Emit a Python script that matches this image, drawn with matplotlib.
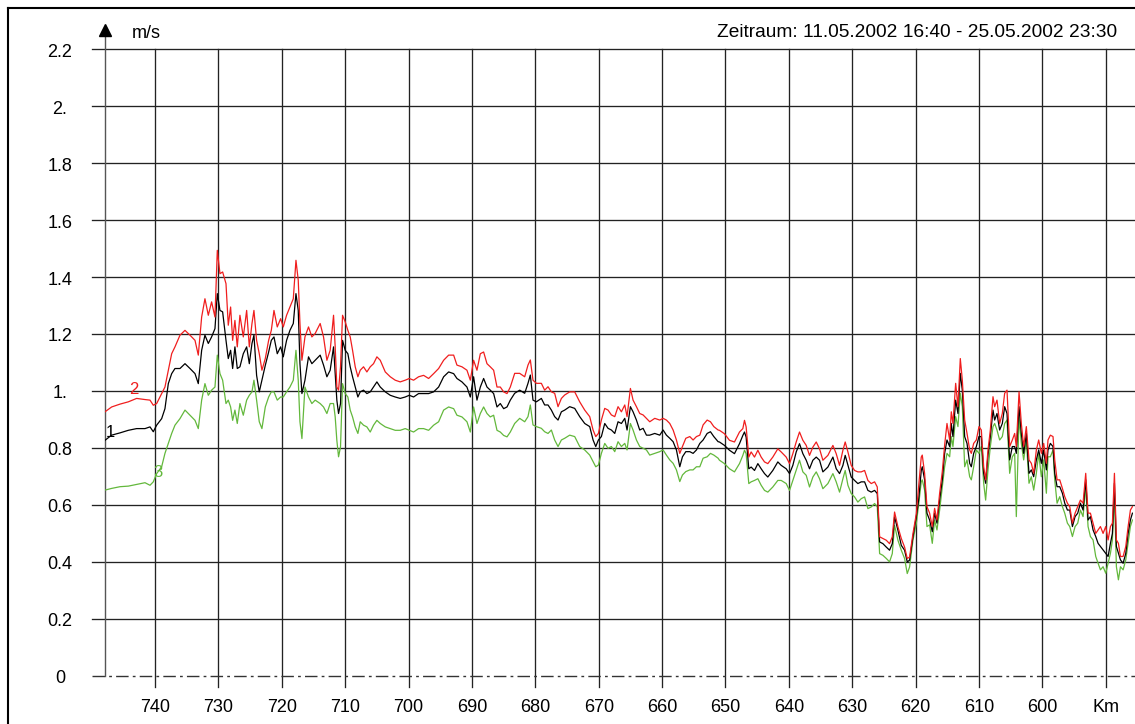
import matplotlib
matplotlib.use("Agg")
import matplotlib.pyplot as plt
from matplotlib.lines import Line2D

plt.rcParams['font.family'] = ['Liberation Sans', 'DejaVu Sans']

# Stream kilometre of each sample
km = [
    747.9, 746.85, 745.53, 744.22, 742.91, 741.59, 740.8, 740.28, 739.75, 738.96,
    738.44, 737.91, 737.38, 736.86, 736.07, 735.28, 734.49, 733.70, 733.18, 732.65,
    732.13, 731.60, 731.08, 730.55, 730.18, 729.76, 729.34, 728.81, 728.45, 728.08,
    727.76, 727.40, 727.03, 726.61, 726.08, 725.55, 725.13, 724.71, 724.40, 723.98,
    723.56, 723.14, 722.61, 722.08, 721.66, 721.24, 720.72, 720.19, 719.77, 719.25,
    718.72, 718.19, 717.77, 717.41, 717.14, 716.83, 716.35,
    715.79, 715.26, 714.74, 713.95, 713.42, 712.89, 712.37, 711.84, 711.58, 711.32,
    711.05, 710.74, 710.42, 710.0, 709.58, 709.21, 708.84, 708.42, 708.0, 707.63,
    707.11, 706.58, 706.05, 705.53, 705.0, 704.47, 703.68, 702.89, 702.11, 701.32,
    700.53, 699.89, 699.21, 698.42, 697.63, 696.84, 696.05, 695.26, 694.47, 693.68,
    692.89, 692.37, 691.58, 690.79, 690.26, 689.74, 689.21, 688.68, 688.16, 687.63,
    687.11, 686.58, 686.05, 685.53, 685.0, 684.47, 683.95,
    683.26, 682.47, 681.68, 681.16, 680.79, 680.37, 679.84, 679.05, 678.53, 678.0,
    677.47, 676.95, 676.42, 675.89, 675.37, 674.58, 673.79, 673.0, 672.21, 671.42,
    670.89, 670.47, 670.05, 669.58, 669.05, 668.53, 668.0, 667.47, 666.95, 666.42,
    665.89, 665.53, 665.0, 664.58, 664.05, 663.53, 663.0, 662.47, 661.95, 661.16,
    660.37, 659.84, 659.32, 658.79, 658.26, 657.74, 657.21, 656.79, 656.26, 655.63,
    655.11, 654.58, 654.05, 653.53, 652.89, 652.37, 651.84, 651.16,
    650.95, 650.16, 649.37, 648.58, 647.79, 647.26, 647.0, 646.74, 646.32, 645.95,
    645.42, 644.89, 644.37, 643.84, 643.32, 642.53, 641.74, 641.21, 640.42, 639.89,
    639.37, 638.84, 638.32, 637.79, 637.26, 636.74, 636.21, 635.68, 635.16, 634.63,
    633.84, 633.05, 632.53, 632.0, 631.47, 631.11, 630.68, 630.16, 629.63, 629.11,
    628.58, 628.05, 627.53, 627.0, 626.47, 626.05, 625.68, 625.16, 624.63, 624.11,
    623.68, 623.32, 622.79, 622.26, 621.74, 621.32, 620.95, 620.42, 619.89, 619.53,
    619.11,
    618.95, 618.58, 618.21, 617.79, 617.37, 617.0, 616.63, 616.21, 615.79, 615.42,
    615.05, 614.63, 614.37, 614.11, 613.68, 613.32, 612.95, 612.63, 612.26, 611.89,
    611.47, 611.21, 610.84, 610.42, 610.0, 609.63, 609.26, 608.95, 608.58, 608.21,
    607.79, 607.53, 607.16, 606.74, 606.32, 605.95, 605.58, 605.16, 604.74, 604.37,
    604.11, 603.68, 603.32, 602.95, 602.53, 602.11, 601.74, 601.37, 600.95, 600.58,
    600.16, 599.79, 599.37, 599.11, 598.74, 598.32, 598.05, 597.68, 597.26, 596.84,
    596.47, 596.05, 595.68, 595.26, 594.84, 594.42, 594.0, 593.58, 593.16, 592.79,
    592.42, 592.0, 591.58, 591.21, 590.84, 590.42, 590.0, 589.63, 589.26, 588.95,
    588.63, 588.32, 588.0, 587.68, 587.26, 586.84, 586.47, 586.11, 585.79,
]

# curve 1 (black), m/s
v1 = [
    0.826, 0.844, 0.852, 0.861, 0.867, 0.867, 0.873, 0.856, 0.879, 0.902,
    0.937, 1.025, 1.060, 1.078, 1.078, 1.095, 1.078, 1.060, 1.025, 1.142,
    1.195, 1.166, 1.189, 1.218, 1.341, 1.282, 1.277, 1.177, 1.113, 1.142,
    1.078, 1.154, 1.078, 1.084, 1.130, 1.154, 1.095, 1.166, 1.195, 1.054,
    0.996, 1.037, 1.089, 1.136, 1.177, 1.189, 1.130, 1.154, 1.119, 1.177,
    1.212, 1.236, 1.341, 1.282, 1.095, 0.990, 1.037,
    1.119, 1.095, 1.107, 1.125, 1.090, 1.049, 1.072, 1.154, 1.060, 0.967,
    0.920, 0.955, 1.177, 1.142, 1.130, 1.084, 1.049, 1.013, 0.978, 0.996,
    1.002, 0.990, 0.996, 1.013, 1.031, 1.013, 0.996, 0.984, 0.978, 0.973,
    0.978, 0.984, 0.978, 0.990, 0.990, 0.990, 0.996, 1.013, 1.049, 1.066,
    1.060, 1.043, 1.031, 1.013, 0.978, 1.049, 0.967, 1.013, 1.043, 1.013,
    1.002, 0.990, 0.943, 0.955, 0.937, 0.943, 0.967,
    0.991, 1.002, 0.991, 1.026, 1.055, 0.967, 0.961, 0.973, 0.950, 0.950,
    0.932, 0.909, 0.897, 0.926, 0.932, 0.944, 0.938, 0.909, 0.885, 0.874,
    0.827, 0.804, 0.827, 0.839, 0.885, 0.868, 0.862, 0.850, 0.891, 0.885,
    0.903, 0.862, 0.944, 0.926, 0.897, 0.862, 0.868, 0.844, 0.844, 0.850,
    0.844, 0.862, 0.844, 0.833, 0.821, 0.792, 0.733, 0.768, 0.786, 0.786,
    0.780, 0.792, 0.815, 0.827, 0.850, 0.856, 0.839, 0.821,
    0.820, 0.808, 0.791, 0.779, 0.814, 0.843, 0.855, 0.837, 0.726, 0.732,
    0.720, 0.744, 0.726, 0.709, 0.697, 0.720, 0.750, 0.738, 0.726, 0.709,
    0.738, 0.785, 0.814, 0.779, 0.756, 0.726, 0.756, 0.767, 0.756, 0.715,
    0.732, 0.767, 0.726, 0.709, 0.738, 0.773, 0.738, 0.697, 0.685, 0.674,
    0.680, 0.680, 0.650, 0.644, 0.650, 0.639, 0.469, 0.463, 0.451, 0.440,
    0.463, 0.557, 0.510, 0.457, 0.440, 0.399, 0.405, 0.487, 0.557, 0.615,
    0.720,
    0.733, 0.687, 0.570, 0.546, 0.505, 0.570, 0.535, 0.616, 0.687, 0.780,
    0.827, 0.804, 0.885, 0.839, 0.967, 0.920, 1.061, 1.002, 0.839, 0.815,
    0.745, 0.733, 0.780, 0.804, 0.839, 0.839, 0.710, 0.675, 0.774, 0.839,
    0.932, 0.897, 0.920, 0.862, 0.885, 0.944, 0.920, 0.757, 0.804, 0.804,
    0.780, 0.944, 0.850, 0.780, 0.850, 0.710, 0.722, 0.698, 0.757, 0.792,
    0.745, 0.792, 0.722, 0.792, 0.815, 0.804, 0.710, 0.663, 0.663, 0.640,
    0.605, 0.581, 0.581, 0.523, 0.558, 0.570, 0.605, 0.581, 0.687, 0.546,
    0.558, 0.511, 0.488, 0.464, 0.453, 0.441, 0.429, 0.418, 0.464, 0.499,
    0.675, 0.453, 0.429, 0.406, 0.394, 0.429, 0.499, 0.546, 0.570,
]

# curve 2 (red)
v2 = [
    0.926, 0.943, 0.953, 0.961, 0.973, 0.969, 0.967, 0.949, 0.955, 0.990,
    1.013, 1.072, 1.130, 1.154, 1.195, 1.212, 1.195, 1.177, 1.125, 1.259,
    1.323, 1.265, 1.312, 1.259, 1.493, 1.411, 1.417, 1.376, 1.230, 1.294,
    1.177, 1.247, 1.154, 1.265, 1.189, 1.282, 1.154, 1.236, 1.282, 1.177,
    1.130, 1.072, 1.113, 1.177, 1.212, 1.282, 1.224, 1.253, 1.224, 1.265,
    1.294, 1.323, 1.458, 1.388, 1.236, 1.107, 1.189,
    1.224, 1.189, 1.201, 1.236, 1.189, 1.107, 1.142, 1.265, 1.154, 1.013,
    1.002, 1.084, 1.265, 1.242, 1.212, 1.189, 1.142, 1.084, 1.049, 1.072,
    1.084, 1.066, 1.084, 1.095, 1.119, 1.107, 1.066, 1.049, 1.037, 1.031,
    1.037, 1.043, 1.037, 1.049, 1.054, 1.043, 1.060, 1.078, 1.107, 1.125,
    1.125, 1.090, 1.084, 1.072, 1.037, 1.107, 1.072, 1.130, 1.136, 1.095,
    1.084, 1.072, 1.013, 1.013, 0.996, 0.990, 1.013,
    1.061, 1.061, 1.049, 1.090, 1.108, 1.037, 1.026, 1.026, 1.002, 1.014,
    0.996, 0.991, 0.944, 0.973, 0.985, 0.996, 0.996, 0.961, 0.932, 0.909,
    0.862, 0.839, 0.850, 0.897, 0.938, 0.932, 0.915, 0.909, 0.944, 0.926,
    0.950, 0.909, 1.008, 0.967, 0.944, 0.920, 0.915, 0.903, 0.891, 0.903,
    0.897, 0.903, 0.897, 0.885, 0.862, 0.827, 0.780, 0.804, 0.833, 0.839,
    0.827, 0.839, 0.844, 0.880, 0.897, 0.891, 0.874, 0.862,
    0.861, 0.849, 0.826, 0.820, 0.855, 0.867, 0.896, 0.873, 0.767, 0.785,
    0.767, 0.791, 0.767, 0.750, 0.744, 0.767, 0.796, 0.785, 0.767, 0.744,
    0.779, 0.820, 0.855, 0.826, 0.808, 0.773, 0.802, 0.820, 0.796, 0.756,
    0.773, 0.808, 0.779, 0.738, 0.791, 0.820, 0.785, 0.738, 0.720, 0.715,
    0.715, 0.720, 0.685, 0.674, 0.680, 0.662, 0.487, 0.481, 0.475, 0.463,
    0.487, 0.574, 0.522, 0.481, 0.451, 0.411, 0.416, 0.498, 0.568, 0.662,
    0.767,
    0.774, 0.710, 0.593, 0.570, 0.523, 0.587, 0.546, 0.640, 0.716, 0.809,
    0.885, 0.827, 0.926, 0.885, 1.026, 0.944, 1.113, 1.037, 0.897, 0.850,
    0.792, 0.780, 0.815, 0.827, 0.874, 0.862, 0.733, 0.687, 0.792, 0.862,
    0.979, 0.944, 0.967, 0.885, 0.920, 0.991, 1.002, 0.804, 0.827, 0.850,
    0.804, 0.996, 0.885, 0.804, 0.874, 0.757, 0.745, 0.710, 0.792, 0.827,
    0.780, 0.815, 0.745, 0.827, 0.844, 0.839, 0.757, 0.687, 0.687, 0.657,
    0.628, 0.605, 0.593, 0.535, 0.570, 0.593, 0.616, 0.605, 0.710, 0.570,
    0.570, 0.535, 0.499, 0.511, 0.523, 0.499, 0.523, 0.476, 0.523, 0.535,
    0.710, 0.476, 0.464, 0.418, 0.418, 0.453, 0.523, 0.581, 0.593,
]

# curve 3 (green)
v3 = [
    0.651, 0.657, 0.663, 0.665, 0.671, 0.677, 0.668, 0.680, 0.709, 0.733,
    0.780, 0.815, 0.850, 0.879, 0.902, 0.932, 0.914, 0.896, 0.867, 0.967,
    1.025, 0.984, 1.002, 1.013, 1.125, 1.060, 1.037, 0.955, 0.967, 0.943,
    0.896, 0.932, 0.885, 0.955, 0.914, 0.967, 0.984, 0.996, 1.037, 0.967,
    0.891, 0.867, 0.943, 0.978, 0.996, 0.996, 0.967, 0.978, 0.978, 0.996,
    1.013, 1.037, 1.142, 1.037, 0.891, 0.832, 1.013,
    0.978, 0.955, 0.967, 0.955, 0.943, 0.920, 0.955, 0.955, 0.908, 0.826,
    0.768, 0.803, 1.025, 0.990, 0.978, 0.932, 0.908, 0.873, 0.850, 0.891,
    0.879, 0.873, 0.855, 0.879, 0.896, 0.885, 0.873, 0.867, 0.861, 0.861,
    0.867, 0.861, 0.855, 0.867, 0.867, 0.861, 0.879, 0.891, 0.932, 0.943,
    0.937, 0.914, 0.908, 0.891, 0.855, 0.943, 0.885, 0.920, 0.943, 0.920,
    0.908, 0.914, 0.861, 0.855, 0.843, 0.838, 0.855,
    0.885, 0.903, 0.891, 0.909, 0.950, 0.880, 0.874, 0.868, 0.856, 0.850,
    0.862, 0.827, 0.804, 0.827, 0.833, 0.844, 0.839, 0.804, 0.792, 0.774,
    0.751, 0.733, 0.739, 0.780, 0.815, 0.798, 0.804, 0.786, 0.821, 0.804,
    0.815, 0.792, 0.885, 0.862, 0.827, 0.804, 0.798, 0.792, 0.774, 0.780,
    0.786, 0.792, 0.774, 0.757, 0.745, 0.722, 0.681, 0.704, 0.716, 0.722,
    0.722, 0.733, 0.733, 0.763, 0.768, 0.780, 0.774, 0.763,
    0.756, 0.744, 0.726, 0.715, 0.744, 0.773, 0.791, 0.779, 0.674, 0.680,
    0.685, 0.691, 0.668, 0.650, 0.644, 0.662, 0.685, 0.685, 0.674, 0.650,
    0.685, 0.720, 0.756, 0.715, 0.703, 0.662, 0.697, 0.715, 0.691, 0.656,
    0.674, 0.709, 0.680, 0.644, 0.691, 0.720, 0.668, 0.639, 0.627, 0.609,
    0.621, 0.627, 0.586, 0.592, 0.604, 0.592, 0.428, 0.422, 0.411, 0.399,
    0.428, 0.527, 0.475, 0.440, 0.411, 0.358, 0.381, 0.475, 0.533, 0.598,
    0.680,
    0.687, 0.651, 0.523, 0.529, 0.464, 0.546, 0.511, 0.581, 0.663, 0.733,
    0.780, 0.768, 0.839, 0.804, 0.909, 0.874, 0.991, 0.944, 0.733, 0.757,
    0.698, 0.687, 0.733, 0.792, 0.780, 0.804, 0.675, 0.616, 0.722, 0.804,
    0.874, 0.885, 0.862, 0.827, 0.839, 0.885, 0.897, 0.710, 0.768, 0.780,
    0.558, 0.909, 0.815, 0.757, 0.827, 0.675, 0.698, 0.651, 0.710, 0.780,
    0.698, 0.757, 0.640, 0.768, 0.768, 0.792, 0.687, 0.605, 0.628, 0.593,
    0.570, 0.535, 0.523, 0.488, 0.523, 0.535, 0.581, 0.558, 0.663, 0.523,
    0.488, 0.476, 0.418, 0.394, 0.371, 0.382, 0.359, 0.394, 0.429, 0.476,
    0.640, 0.382, 0.336, 0.382, 0.371, 0.406, 0.464, 0.523, 0.546,
]

x_ticks = [740, 730, 720, 710, 700, 690, 680, 670, 660, 650, 640, 630, 620, 610, 600, 590]
x_labels = ["740", "730", "720", "710", "700", "690", "680", "670", "660", "650",
            "640", "630", "620", "610", "600", "Km"]
y_ticks = [0, 0.2, 0.4, 0.6, 0.8, 1.0, 1.2, 1.4, 1.6, 1.8, 2.0, 2.2]
y_labels = ["0", "0.2", "0.4", "0.6", "0.8", "1.", "1.2", "1.4", "1.6", "1.8", "2.", "2.2"]

fig = plt.figure(figsize=(11.35, 7.24), dpi=100)
ax = fig.add_axes([105 / 1135, 48.5 / 724, 1028 / 1135, 626.5 / 724])
ax.set_xlim(747.9, 585.7)
ax.set_ylim(0, 2.2)
ax.axis("off")

grid_col = "#222222"
yt = ax.get_yaxis_transform()

# horizontal grid
for v in y_ticks[1:]:
    ax.plot([-0.0126, 1.01], [v, v], transform=yt, color=grid_col, lw=0.95, clip_on=False, zorder=1)
# vertical grid (runs a little below zero as tick marks)
for k in x_ticks:
    ax.plot([k, k], [-0.04, 2.2], color=grid_col, lw=0.95, clip_on=False, zorder=1)
# dash-dot zero line
ax.plot([-0.0126, 1.01], [0, 0], transform=yt, color="#333333", lw=1.0,
        dashes=(9, 3, 2, 3), clip_on=False, zorder=1)
# y axis with arrow
ax.plot([0, 0], [0, 2.25], transform=yt, color="#555555", lw=1.0, clip_on=False, zorder=1)
ax.plot([0], [2.265], transform=yt, marker="^", markersize=8, color="black",
        clip_on=False, zorder=3)

# curves
ax.plot(km, v3, color="#63b83c", lw=0.9, zorder=2)
ax.plot(km, v1, color="black", lw=0.9, zorder=3)
ax.plot(km, v2, color="#f01e1e", lw=0.9, zorder=4)

ax.text(747.1, 0.837, "1", color="black", fontsize=12, ha="center", va="baseline", zorder=5)
ax.text(743.4, 0.988, "2", color="#f01e1e", fontsize=12, ha="center", va="baseline", zorder=5)
ax.text(739.5, 0.696, "3", color="#63b83c", fontsize=12, ha="center", va="baseline", zorder=5)

# tick labels
for v, lab in zip(y_ticks, y_labels):
    ax.text(-0.0438, v - 0.027, lab, transform=yt, ha="center", va="baseline",
            fontsize=13, clip_on=False)
for k, lab in zip(x_ticks, x_labels):
    ax.text(k, -0.128, lab, ha="center", va="baseline", fontsize=13, clip_on=False)

fig.text(132 / 1135, 1 - 38 / 724, "m/s", fontsize=13, ha="left", va="baseline")
fig.text(1117 / 1135, 1 - 37 / 724, "Zeitraum: 11.05.2002 16:40 - 25.05.2002 23:30",
         fontsize=13.8, ha="right", va="baseline")

# frame around the picture (right and bottom edges fall outside)
fig.add_artist(Line2D([7.5 / 1135, 7.5 / 1135], [0, 1 - 7.5 / 724], color="black", lw=1.5))
fig.add_artist(Line2D([7.5 / 1135, 1], [1 - 7.5 / 724, 1 - 7.5 / 724], color="black", lw=1.5))

fig.savefig("out.png", dpi=100)
